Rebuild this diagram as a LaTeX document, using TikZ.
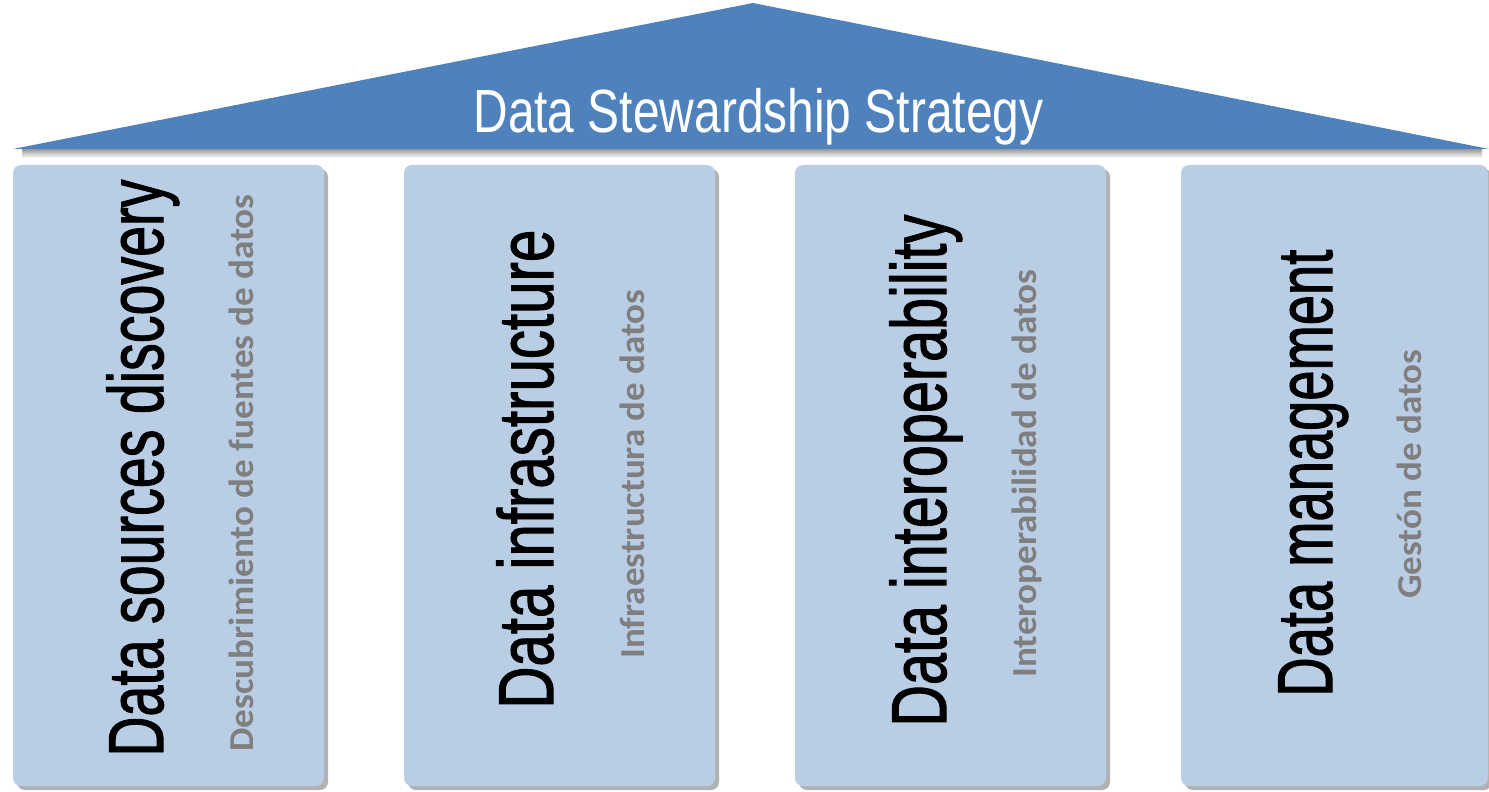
\documentclass[tikz,border=0pt]{standalone}
\usepackage{fontspec}
\usepackage{graphicx}
\newfontfamily\mainfnt{Liberation Sans}
\newfontfamily\colfnt{Liberation Sans}[FakeBold=1.5]
\newfontfamily\subfnt{Carlito}
\usetikzlibrary{shadows}
\definecolor{roofblue}{RGB}{79,129,189}
\definecolor{colblue}{RGB}{185,205,229}
\definecolor{subgray}{RGB}{127,127,127}
\newcommand{\mtext}[2]{\resizebox{#1}{\height}{\fontsize{39pt}{40pt}\colfnt #2}}
\newcommand{\stext}[2]{\resizebox{#1}{\height}{\fontsize{17.5pt}{18pt}\subfnt\bfseries #2}}
\begin{document}
\begin{tikzpicture}[x=0.5pt,y=-0.5pt,
  colbox/.style={rectangle, rounded corners=4pt, fill=colblue, inner sep=0pt,
    minimum height=310.5pt,
    drop shadow={shadow xshift=2pt, shadow yshift=-2pt, fill=black, opacity=0.3}},
  maintext/.style={rotate=90, anchor=base west, inner sep=0pt, text=black},
  subtext/.style={rotate=90, anchor=base west, inner sep=0pt, text=subgray}]
\useasboundingbox (0,0) rectangle (1489,792);
% roof shadow and roof
\shade[top color=black!40, bottom color=white] (22,149) rectangle (1482,158);
\fill[roofblue] (13,149) -- (753,3) -- (1489,149) -- cycle;
\node[anchor=base west, inner sep=0pt, text=white] (title) at (473,133)
  {\resizebox{285pt}{\height}{\fontsize{30.5pt}{31pt}\mainfnt Data Stewardship Strategy}};
% columns
\node[colbox, minimum width=155.5pt] (col1) at (168.5,475.5) {};
\node[colbox, minimum width=155.5pt] (col2) at (559.5,475.5) {};
\node[colbox, minimum width=155.5pt] (col3) at (950.5,475.5) {};
\node[colbox, minimum width=153.5pt] (col4) at (1334.5,475.5) {};
% main texts
\node[maintext] (m1) at (163,757) {\mtext{288.5pt}{Data sources discovery}};
\node[maintext] (m2) at (553,709) {\mtext{239.5pt}{Data infrastructure}};
\node[maintext] (m3) at (946,727) {\mtext{256pt}{Data interoperability}};
\node[maintext] (m4) at (1332,697) {\mtext{223.5pt}{Data management}};
% subtitles
\node[subtext] (s1) at (253,752) {\stext{278.5pt}{Descubrimiento de fuentes de datos}};
\node[subtext] (s2) at (644,659) {\stext{184.5pt}{Infraestructura de datos}};
\node[subtext] (s3) at (1036,678) {\stext{204pt}{Interoperabilidad de datos}};
\node[subtext] (s4) at (1421,599) {\stext{124.5pt}{Gestón de datos}};
\end{tikzpicture}
\end{document}
